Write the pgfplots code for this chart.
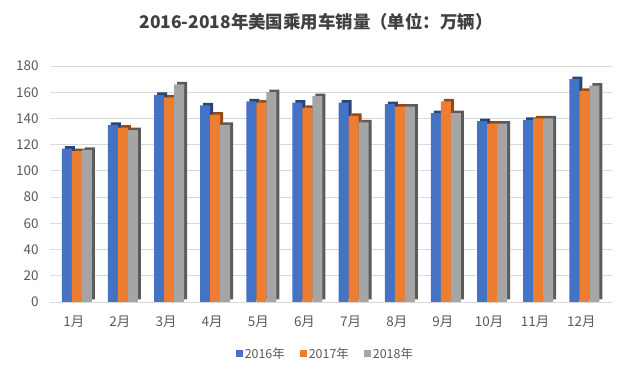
\documentclass[border=0pt]{standalone}
\usepackage{fontspec}
\setmainfont{Noto Sans CJK SC}
\usepackage{pgfplots}
\pgfplotsset{compat=1.18}
\definecolor{cA}{HTML}{4472C4}
\definecolor{cB}{HTML}{ED7D31}
\definecolor{cC}{HTML}{A5A5A5}
\definecolor{ttl}{HTML}{404040}
\definecolor{labc}{HTML}{595959}
\definecolor{gridc}{HTML}{D9D9D9}
\begin{document}
\begin{tikzpicture}
\path[use as bounding box] (-50bp,-74bp) rectangle (590bp,302bp);
\node[font=\bfseries\fontsize{17.5}{20}\selectfont, text=ttl] at (266bp,280bp) {2016-2018年美国乘用车销量（单位：万辆）};
\begin{axis}[
  scale only axis, width=562bp, height=236bp,
  xmin=-0.58, xmax=11.6, ymin=0, ymax=180,
  ytick={0,20,...,180},
  xtick={0,...,11},
  xticklabels={1月,2月,3月,4月,5月,6月,7月,8月,9月,10月,11月,12月},
  axis line style={draw=none}, major tick length=0pt,
  ymajorgrids, grid style={draw=gridc, line width=0.9bp},
  tick label style={font=\fontsize{13.5}{15}\selectfont, text=labc},
  /pgf/number format/assume math mode=true,
  xticklabel style={yshift=-10bp, xshift=-3bp},
  yticklabel style={xshift=-8bp},
  ybar, bar width=10bp,
  legend columns=3,
  legend style={draw=none, fill=none, at={(0.49,-0.22)}, anchor=center,
    font=\fontsize{12.5}{14}\selectfont, text=labc},
  legend image code/.code={\path[#1,draw=none] (0bp,-3.5bp) rectangle (7bp,3.5bp);},
]
\addplot[fill=cA!60!black, draw=none, bar shift=-7bp, yshift=2.5bp, forget plot] coordinates {(0,117)(1,135)(2,158)(3,150)(4,153)(5,152)(6,152)(7,151)(8,144)(9,138)(10,139)(11,170)};
\addplot[fill=cA, draw=none, bar shift=-10bp] coordinates {(0,117)(1,135)(2,158)(3,150)(4,153)(5,152)(6,152)(7,151)(8,144)(9,138)(10,139)(11,170)};
\addplot[fill=cB!60!black, draw=none, bar shift=3bp, yshift=2.5bp, forget plot] coordinates {(0,115)(1,133)(2,156)(3,143)(4,152)(5,148)(6,142)(7,149)(8,153)(9,136)(10,140)(11,161)};
\addplot[fill=cB, draw=none, bar shift=0bp] coordinates {(0,115)(1,133)(2,156)(3,143)(4,152)(5,148)(6,142)(7,149)(8,153)(9,136)(10,140)(11,161)};
\addplot[fill=cC!55!black, draw=none, bar shift=13bp, yshift=2.5bp, forget plot] coordinates {(0,116)(1,131)(2,166)(3,135)(4,160)(5,157)(6,137)(7,149)(8,144)(9,136)(10,140)(11,165)};
\addplot[fill=cC, draw=none, bar shift=10bp] coordinates {(0,116)(1,131)(2,166)(3,135)(4,160)(5,157)(6,137)(7,149)(8,144)(9,136)(10,140)(11,165)};
\legend{2016年\rule{13bp}{0pt},2017年\rule{13bp}{0pt},2018年}
\end{axis}
\end{tikzpicture}
\end{document}
